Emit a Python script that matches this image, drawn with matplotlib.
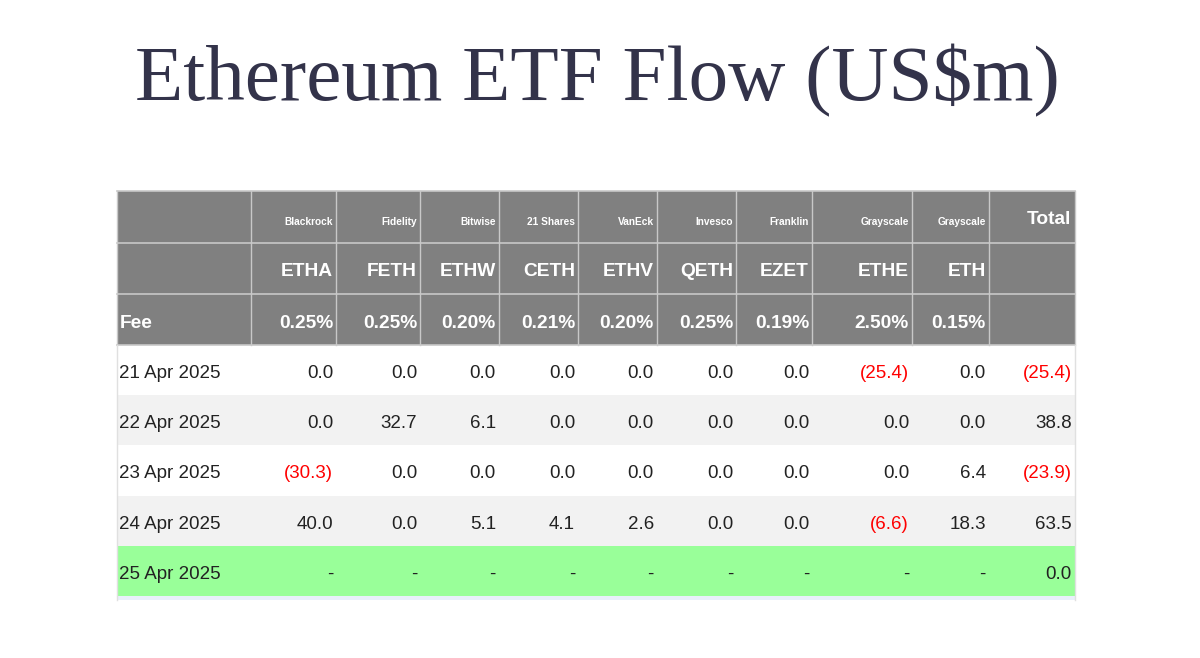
import matplotlib.pyplot as plt
from matplotlib.patches import Rectangle

# table data
issuers = ['Blackrock', 'Fidelity', 'Bitwise', '21 Shares', 'VanEck', 'Invesco',
           'Franklin', 'Grayscale', 'Grayscale']
tickers = ['ETHA', 'FETH', 'ETHW', 'CETH', 'ETHV', 'QETH', 'EZET', 'ETHE', 'ETH']
fees = ['0.25%', '0.25%', '0.20%', '0.21%', '0.20%', '0.25%', '0.19%', '2.50%', '0.15%']
dates = ['21 Apr 2025', '22 Apr 2025', '23 Apr 2025', '24 Apr 2025', '25 Apr 2025']
flows = [
    [0.0, 0.0, 0.0, 0.0, 0.0, 0.0, 0.0, -25.4, 0.0],
    [0.0, 32.7, 6.1, 0.0, 0.0, 0.0, 0.0, 0.0, 0.0],
    [-30.3, 0.0, 0.0, 0.0, 0.0, 0.0, 0.0, 0.0, 6.4],
    [40.0, 0.0, 5.1, 4.1, 2.6, 0.0, 0.0, -6.6, 18.3],
    [None] * 9,
]
totals = [-25.4, 38.8, -23.9, 63.5, 0.0]

# layout in pixels
col_edges = [117, 251, 336, 420, 499, 578, 657, 736, 812, 912, 989, 1075]
head_edges = [191, 243, 294, 345]
row_h = 50.2

HEAD = '#808080'
GRID = '#c8c8c8'
RED = '#ff0000'
INK = '#222222'
SANS = 'Liberation Sans'

fig = plt.figure(figsize=(12, 6.58), dpi=100)
ax = fig.add_axes([0, 0, 1, 1])
ax.set_xlim(0, 1200)
ax.set_ylim(658, 0)
ax.axis('off')

ax.text(597, 81, 'Ethereum ETF Flow (US$m)', ha='center', va='center',
        fontsize=57, family='Liberation Serif', color='#33334a')


def fmt(v):
    if v is None:
        return '-', INK
    if v < 0:
        return '(%.1f)' % -v, RED
    return '%.1f' % v, INK


# header block
ax.add_patch(Rectangle((col_edges[0], head_edges[0]), col_edges[-1] - col_edges[0],
                       head_edges[-1] - head_edges[0], color=HEAD, lw=0))
for x in col_edges:
    ax.plot([x, x], [head_edges[0], head_edges[-1]], color=GRID, lw=1)
for y in head_edges:
    ax.plot([col_edges[0], col_edges[-1]], [y, y], color=GRID, lw=1.2)

shadow = dict(color='white', fontweight='bold', family=SANS)
for i in range(len(tickers)):
    xr = col_edges[i + 2] - 3
    ax.text(xr, 222, issuers[i], ha='right', va='center', fontsize=7.3, **shadow)
    ax.text(xr, 272, tickers[i], ha='right', va='center', fontsize=13.8, **shadow)
    ax.text(xr, 323, fees[i], ha='right', va='center', fontsize=13.8, **shadow)
ax.text(col_edges[-1] - 4, 220, 'Total', ha='right', va='center', fontsize=13.8, **shadow)
ax.text(col_edges[0] + 3, 323, 'Fee', ha='left', va='center', fontsize=13.8, **shadow)

# data rows
for r, date in enumerate(dates):
    y0 = head_edges[-1] + r * row_h
    if r == len(dates) - 1:
        bg = '#99ff99'
    else:
        bg = 'white' if r % 2 == 0 else '#f2f2f2'
    ax.add_patch(Rectangle((col_edges[0], y0), col_edges[-1] - col_edges[0], row_h,
                           color=bg, lw=0))
    yc = y0 + row_h / 2 + 3.5
    ax.text(col_edges[0] + 2, yc, date, ha='left', va='center', fontsize=13.5,
            family=SANS, color=INK)
    for i, v in enumerate(flows[r]):
        s, c = fmt(v)
        ax.text(col_edges[i + 2] - 3, yc, s, ha='right', va='center', fontsize=13.5,
                family=SANS, color=c)
    s, c = fmt(totals[r])
    ax.text(col_edges[-1] - 3, yc, s, ha='right', va='center', fontsize=13.5,
            family=SANS, color=c)

bottom = head_edges[-1] + len(dates) * row_h
ax.add_patch(Rectangle((col_edges[0], bottom), col_edges[-1] - col_edges[0], 4,
                       color='#e8f0fa', lw=0))
ax.plot([col_edges[0], col_edges[0]], [head_edges[-1], bottom + 4], color='#e0e0e0', lw=1)
ax.plot([col_edges[-1], col_edges[-1]], [head_edges[-1], bottom + 4], color='#e0e0e0', lw=1)

fig.savefig('out.png', dpi=100)
